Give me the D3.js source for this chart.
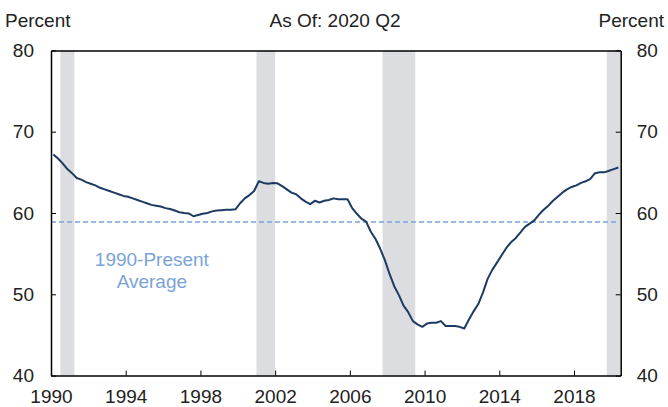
<!DOCTYPE html>
<html>
<head>
<meta charset="utf-8">
<script src="https://cdn.jsdelivr.net/npm/d3@7"></script>
<style>
  html, body { margin: 0; padding: 0; background: #fff; }
  svg text { font-family: "Liberation Sans", Arial, Helvetica, sans-serif; }
</style>
</head>
<body>
<div id="chart"></div>
<script>
// Quarterly values, 1990 Q1 .. 2020 Q2 (percent)
const startYear = 1990;
const values = [
  67.2, 66.7, 66.1, 65.4,   // 1990
  64.9, 64.3, 64.1, 63.8,   // 1991
  63.6, 63.4, 63.1, 62.9,   // 1992
  62.7, 62.5, 62.3, 62.1,   // 1993
  62.0, 61.8, 61.6, 61.4,   // 1994
  61.2, 61.0, 60.9, 60.8,   // 1995
  60.6, 60.5, 60.3, 60.1,   // 1996
  60.0, 59.95, 59.6, 59.75, // 1997
  59.9, 60.0, 60.2, 60.3,   // 1998
  60.35, 60.4, 60.4, 60.45, // 1999
  61.2, 61.8, 62.2, 62.7,   // 2000
  63.9, 63.7, 63.6, 63.7,   // 2001
  63.65, 63.3, 62.9, 62.5,  // 2002
  62.3, 61.8, 61.4, 61.1,   // 2003
  61.5, 61.3, 61.5, 61.6,   // 2004
  61.8, 61.7, 61.7, 61.7,   // 2005
  60.6, 59.9, 59.3, 58.9,   // 2006
  57.7, 56.8, 55.6, 54.2,   // 2007
  52.5, 51.0, 49.9, 48.6,   // 2008
  47.8, 46.7, 46.3, 46.0,   // 2009
  46.4, 46.5, 46.5, 46.7,   // 2010
  46.1, 46.1, 46.1, 46.0,   // 2011
  45.8, 46.9, 47.9, 48.8,   // 2012
  50.2, 51.9, 53.0, 53.9,   // 2013
  54.8, 55.7, 56.4, 56.9,   // 2014
  57.6, 58.3, 58.7, 59.1,   // 2015
  59.8, 60.4, 60.9, 61.5,   // 2016
  62.0, 62.5, 62.9, 63.2,   // 2017
  63.4, 63.7, 63.9, 64.2,   // 2018
  64.9, 65.0, 65.0, 65.2,   // 2019
  65.4, 65.6                // 2020
];
const average = 58.9;
const recessions = [[1990.5, 1991.25], [2001.0, 2002.0], [2007.75, 2009.5], [2019.75, 2020.5]];
const xTicks = [1990, 1994, 1998, 2002, 2006, 2010, 2014, 2018];
const yTicks = [40, 50, 60, 70, 80];
const title = "As Of: 2020 Q2";
const yLabel = "Percent";
const avgLabel = ["1990-Present", "Average"];

const W = 668, H = 407;
const m = { left: 51, right: 47.3, top: 50.4, bottom: 31.4 };
const svg = d3.select("#chart").append("svg").attr("width", W).attr("height", H);

const x = d3.scaleLinear().domain([1990, 2020.5]).range([m.left, W - m.right]);
const y = d3.scaleLinear().domain([40, 80]).range([H - m.bottom, m.top]);

const data = values.map((v, i) => ({ t: startYear + i * 0.25 + 0.125, v }));

// recession shading
svg.append("g").selectAll("rect").data(recessions).join("rect")
  .attr("x", d => x(d[0])).attr("width", d => x(d[1]) - x(d[0]))
  .attr("y", y(80)).attr("height", y(40) - y(80))
  .attr("fill", "#dcdde0");

// average line
svg.append("line")
  .attr("x1", x(1990)).attr("x2", x(2020.5) - 3)
  .attr("y1", y(average)).attr("y2", y(average))
  .attr("stroke", "#7ba3d8").attr("stroke-width", 1.5)
  .attr("stroke-dasharray", "5,3");

// average label
const fs = 19;
svg.append("text").attr("y", 266)
  .attr("text-anchor", "middle").attr("fill", "#7ba3d8").attr("font-size", fs)
  .selectAll("tspan").data(avgLabel).join("tspan")
  .attr("x", x(1995.4)).attr("dy", (d, i) => i === 0 ? 0 : 22).text(d => d);

// series line
svg.append("path").datum(data)
  .attr("fill", "none").attr("stroke", "#1d3a63").attr("stroke-width", 2)
  .attr("stroke-linejoin", "round")
  .attr("d", d3.line().x(d => x(d.t)).y(d => y(d.v)));

// axes
const gBottom = svg.append("g").attr("transform", `translate(0,${y(40)})`)
  .call(d3.axisBottom(x).tickValues(xTicks).tickFormat(d3.format("d")).tickSizeInner(-5).tickSizeOuter(0).tickPadding(14));
const gLeft = svg.append("g").attr("transform", `translate(${x(1990)},0)`)
  .call(d3.axisLeft(y).tickValues(yTicks).tickSizeInner(-5).tickSizeOuter(0).tickPadding(17));
const gRight = svg.append("g").attr("transform", `translate(${x(2020.5)},0)`)
  .call(d3.axisRight(y).tickValues(yTicks).tickSizeInner(-5).tickSizeOuter(0).tickPadding(16));
const gTop = svg.append("g").attr("transform", `translate(0,${y(80)})`)
  .call(d3.axisTop(x).tickValues([]).tickSizeOuter(0));

[gBottom, gLeft, gRight, gTop].forEach(g => {
  g.select(".domain").attr("stroke", "#000").attr("stroke-width", 1.5);
  g.selectAll(".tick line").attr("stroke", "#000").attr("stroke-width", 1);
  g.selectAll(".tick text").attr("font-size", fs).attr("fill", "#222")
    .attr("font-family", '"Liberation Sans", Arial, sans-serif');
});
gBottom.selectAll(".tick text").attr("dy", "0.71em");

// top labels
svg.append("text").attr("x", 5).attr("y", 27).attr("font-size", fs).attr("fill", "#222").text(yLabel);
svg.append("text").attr("x", 664).attr("y", 27).attr("text-anchor", "end").attr("font-size", fs).attr("fill", "#222").text(yLabel);
svg.append("text").attr("x", 335).attr("y", 27).attr("text-anchor", "middle").attr("font-size", fs).attr("fill", "#222").text(title);
</script>
</body>
</html>
